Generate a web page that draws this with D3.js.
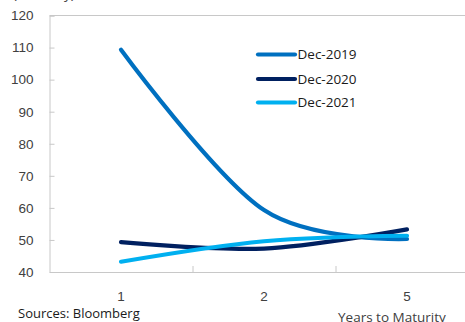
<!DOCTYPE html>
<html>
<head>
<meta charset="utf-8">
<script src="https://cdn.jsdelivr.net/npm/d3@7"></script>
<style>
  html, body { margin: 0; padding: 0; background: #fff; }
  svg { display: block; font-family: "Open Sans", "Noto Sans", sans-serif; }
</style>
</head>
<body>
<svg id="chart" width="465" height="322"></svg>
<script>
// Term structure by tenor, one series per year-end
const maturities = ["1", "2", "5"];
const seriesNames = ["Dec-2019", "Dec-2020", "Dec-2021"];
const dec2019 = [109.3, 59.3, 50.3];
const dec2020 = [49.3, 47.3, 53.3];
const dec2021 = [43.2, 49.6, 51.3];
const yTicks = [40, 50, 60, 70, 80, 90, 100, 110, 120];
const seriesColors = ["#0070C0", "#002060", "#00B0F0"];

const seriesValues = [dec2019, dec2020, dec2021];
const svg = d3.select("#chart");
const textColor = "#404040";
const axisColor = "#c8c8c8";

const x = d3.scaleBand().domain(maturities).range([49.5, 478.5]);
const y = d3.scaleLinear().domain([40, 120]).range([272, 15.5]);

// Frame: top border and bottom axis line (both run off the right edge)
svg.append("line")
  .attr("x1", 49.5).attr("x2", 478.5).attr("y1", y(120)).attr("y2", y(120))
  .attr("stroke", axisColor).attr("stroke-width", 1);

// Left axis with inward ticks
const yAxis = svg.append("g")
  .attr("transform", "translate(49.5,0)")
  .call(d3.axisLeft(y).tickValues(yTicks).tickSize(-5).tickPadding(16));
yAxis.select(".domain").attr("stroke", axisColor);
yAxis.selectAll(".tick line").attr("stroke", axisColor);
yAxis.selectAll(".tick text")
  .attr("fill", textColor).style("font-size", "13.5px");

// Bottom axis: category separators point inward, labels below
const xAxis = svg.append("g")
  .attr("transform", `translate(0,${y(40)})`)
  .call(d3.axisBottom(x).tickSize(0).tickPadding(19));
xAxis.select(".domain").attr("stroke", axisColor);
xAxis.selectAll(".tick text")
  .attr("fill", textColor).style("font-size", "13.5px");
xAxis.selectAll(".sep")
  .data(maturities.slice(1))
  .join("line")
  .attr("class", "sep")
  .attr("x1", d => x(d) + 0.5).attr("x2", d => x(d) + 0.5)
  .attr("y1", 0).attr("y2", -6)
  .attr("stroke", axisColor);

// Smoothed series lines
const line = d3.line()
  .x((d, i) => x(maturities[i]) + x.bandwidth() / 2)
  .y(d => y(d))
  .curve(d3.curveCatmullRom.alpha(0));

svg.append("g")
  .selectAll("path")
  .data(seriesValues)
  .join("path")
  .attr("d", d => line(d))
  .attr("fill", "none")
  .attr("stroke", (d, i) => seriesColors[i])
  .attr("stroke-width", 4.2)
  .attr("stroke-linecap", "round");

// Legend
const legend = svg.append("g");
const legendRows = [54.5, 79, 102.5];
seriesNames.forEach((name, i) => {
  legend.append("line")
    .attr("x1", 258).attr("x2", 295)
    .attr("y1", legendRows[i]).attr("y2", legendRows[i])
    .attr("stroke", seriesColors[i]).attr("stroke-width", 4.2)
    .attr("stroke-linecap", "round");
  legend.append("text")
    .attr("x", 297.5).attr("y", legendRows[i])
    .attr("dy", "0.35em")
    .attr("fill", "#1a1a1a")
    .style("font-size", "13.5px")
    .text(name);
});

// Unit label (mostly above the top edge), source note and axis title
svg.append("text")
  .attr("x", 13).attr("y", -1)
  .attr("fill", textColor).style("font-size", "13.5px")
  .text("(Volatility)");

svg.append("text")
  .attr("x", 18).attr("y", 318)
  .attr("fill", "#1a1a1a").style("font-size", "13px")
  .text("Sources: Bloomberg");

svg.append("text")
  .attr("x", 338).attr("y", 322)
  .attr("fill", textColor).style("font-size", "13.5px")
  .text("Years to Maturity");
</script>
</body>
</html>
